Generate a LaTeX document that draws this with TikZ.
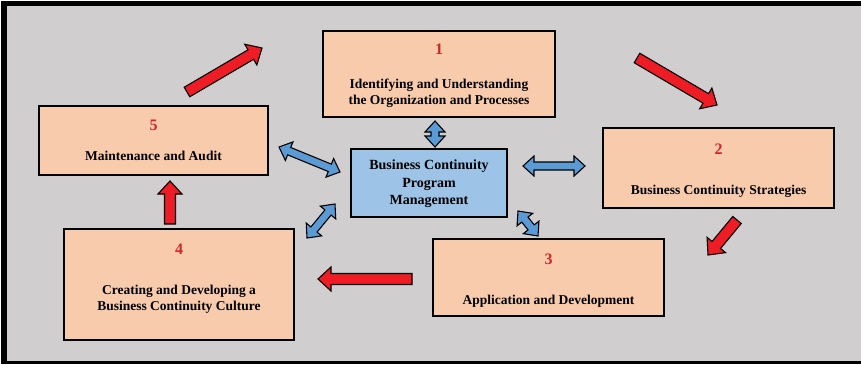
\documentclass[tikz,border=0pt]{standalone}
\usepackage{fontspec}
\setmainfont{Liberation Serif}
\usepackage{tikz}
\usetikzlibrary{calc}
\definecolor{bggray}{HTML}{D0CECE}
\definecolor{peach}{HTML}{F8CBAD}
\definecolor{mgmtblue}{HTML}{9DC3E6}
\definecolor{arrred}{HTML}{EE1C25}
\definecolor{arrblue}{HTML}{5B9BD5}
\definecolor{numred}{HTML}{D0262D}
\tikzset{
    stagebox/.style={draw=black, line width=1.2pt, fill=peach, inner sep=0pt},
    mgmtbox/.style={draw=black, line width=1.2pt, fill=mgmtblue, inner sep=0pt},
    stagenum/.style={text=numred, font=\fontsize{16}{18}\selectfont\bfseries},
    stagetext/.style={align=center, font=\fontsize{13.5}{16}\selectfont\bfseries},
    redarr/.style={draw=black, line width=1.1pt, fill=arrred, line join=miter},
    bluearr/.style={draw=black, line width=1.1pt, fill=arrblue, line join=miter},
}
% block arrow from #1 to #2
\newcommand\redarrow[2]{%
\draw[redarr] ($(#1)!5.5pt!90:(#2)$) -- ($(#2)!13pt!(#1)!5.5pt!-90:(#1)$)
  -- ($(#2)!13pt!(#1)!12pt!-90:(#1)$) -- (#2)
  -- ($(#2)!13pt!(#1)!12pt!90:(#1)$) -- ($(#2)!13pt!(#1)!5.5pt!90:(#1)$)
  -- ($(#1)!5.5pt!-90:(#2)$) -- cycle;}
% double block arrow between #1 and #2
\newcommand\bluearrow[2]{%
\draw[bluearr] (#1) -- ($(#1)!11pt!(#2)!10pt!90:(#2)$) -- ($(#1)!11pt!(#2)!4pt!90:(#2)$)
  -- ($(#2)!11pt!(#1)!4pt!-90:(#1)$) -- ($(#2)!11pt!(#1)!10pt!-90:(#1)$) -- (#2)
  -- ($(#2)!11pt!(#1)!10pt!90:(#1)$) -- ($(#2)!11pt!(#1)!4pt!90:(#1)$)
  -- ($(#1)!11pt!(#2)!4pt!-90:(#2)$) -- ($(#1)!11pt!(#2)!10pt!-90:(#2)$) -- cycle;}

\begin{document}
\begin{tikzpicture}[x=1pt,y=-1pt]
\useasboundingbox (0,0) rectangle (861,364);
\fill[white] (0,0) rectangle (861,364);
\fill[black] (1,1) rectangle (861,364);
\fill[bggray] (7,6) rectangle (861,361);

% stages
\node[stagebox, minimum width=232, minimum height=86] (one) at (439,74) {};
\node[stagebox, minimum width=231, minimum height=80] (two) at (718.5,168) {};
\node[stagebox, minimum width=231, minimum height=77] (three) at (548.5,277.5) {};
\node[stagebox, minimum width=230, minimum height=111] (four) at (179,284.5) {};
\node[stagebox, minimum width=229, minimum height=69] (five) at (153.5,140.5) {};
\node[mgmtbox, minimum width=156, minimum height=68] (mgmt) at (429,183) {};

\node[stagenum] (n1) at ($(one.north)+(0,19)$) {1};
\node[stagetext] (t1) at ($(one.north)+(0,63)$) {Identifying and Understanding\\the Organization and Processes};
\node[stagenum] (n2) at ($(two.north)+(0,22)$) {2};
\node[stagetext] (t2) at ($(two.north)+(0,64)$) {Business Continuity Strategies};
\node[stagenum] (n3) at ($(three.north)+(0,21)$) {3};
\node[stagetext] (t3) at ($(three.north)+(0,63)$) {Application and Development};
\node[stagenum] (n4) at ($(four.north)+(0,21)$) {4};
\node[stagetext] (t4) at ($(four.north)+(0,71)$) {Creating and Developing a\\Business Continuity Culture};
\node[stagenum] (n5) at ($(five.north)+(0,20)$) {5};
\node[stagetext] (t5) at ($(five.north)+(0,50)$) {Maintenance and Audit};
\node[align=center, font=\fontsize{14}{17.5}\selectfont\bfseries] (tm) at ($(mgmt)+(0,1)$) {Business Continuity\\Program\\Management};

% cycle arrows
\coordinate (r51a) at (187,92);  \coordinate (r51b) at (262,48);
\coordinate (r12a) at (637,58);  \coordinate (r12b) at (717,105);
\coordinate (r23a) at (737,220); \coordinate (r23b) at (708,255);
\coordinate (r34a) at (412,279); \coordinate (r34b) at (318,279);
\coordinate (r45a) at (170,224); \coordinate (r45b) at (170,181);
\redarrow{r51a}{r51b}
\redarrow{r12a}{r12b}
\redarrow{r23a}{r23b}
\redarrow{r34a}{r34b}
\redarrow{r45a}{r45b}

% links to management
\coordinate (b1a) at (435,121); \coordinate (b1b) at (435,147);
\coordinate (b2a) at (523,166); \coordinate (b2b) at (585,166);
\coordinate (b3a) at (518,211); \coordinate (b3b) at (538,236);
\coordinate (b4a) at (307,238); \coordinate (b4b) at (335,204);
\coordinate (b5a) at (279,147); \coordinate (b5b) at (340,172);
\bluearrow{b1a}{b1b}
\bluearrow{b2a}{b2b}
\bluearrow{b3a}{b3b}
\bluearrow{b4a}{b4b}
\bluearrow{b5a}{b5b}
\end{tikzpicture}
\end{document}
